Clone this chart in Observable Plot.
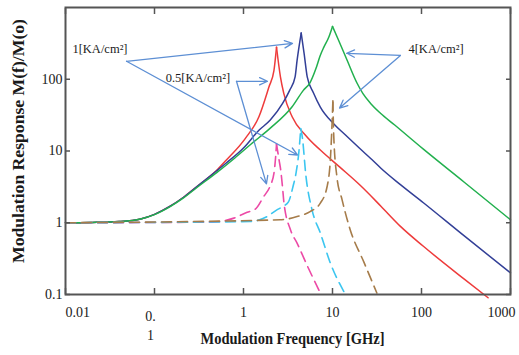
<!DOCTYPE html>
<html>
<head>
<meta charset="utf-8">
<script src="https://cdn.jsdelivr.net/npm/d3@7"></script>
<script src="https://cdn.jsdelivr.net/npm/@observablehq/plot@0.6"></script>
<style>
  html, body { margin: 0; padding: 0; background: #fff; }
</style>
</head>
<body>
<div id="chart"></div>
<script>
// ---- tick values / labels ----
const xTickValues = [0.01, 0.1, 1, 10, 100, 1000];
const xTickLabels = ["0.01", "0.\n1", "1", "10", "100", "1000"];
const yTickValues = [0.1, 1, 10, 100];
const yTickLabels = ["0.1", "1", "10", "100"];
const xTitle = "Modulation Frequency [GHz]";
const yTitle = "Modulation Response M(f)/M(o)";

// ---- solid curves ----
const greenFreq = [0.01,0.02,0.04,0.07,0.1,0.15,0.21,0.3,0.5,0.8,1.2,2.0,3.5,4.7,5.6,6.5,7.3,8.0,9.1,10,11.7,14.6,18.9,22,26.8,34.6,50,105,300,1000];
const greenResp = [1.0,1.01,1.04,1.13,1.3,1.68,2.2,3.1,5.0,8.0,12.3,20.8,41,70,90,140,216,280,388,545,350,184,88,63,46,33.6,23,10.6,3.7,1.1];

const blueFreq = [0.01,0.02,0.04,0.07,0.1,0.15,0.21,0.3,0.5,0.63,1.0,1.5,2.0,2.75,3.3,3.8,4.0,4.45,4.8,5.2,6.1,7.3,10.3,14,20,29,35,58,105,300,1000];
const blueResp = [1.0,1.01,1.04,1.13,1.31,1.7,2.25,3.2,5.3,6.7,11,19.6,27,46,70,108,183,440,228,108,65,41,24,16.7,11,7.2,5.75,3.4,1.9,0.66,0.2];

const redFreq = [0.01,0.02,0.04,0.07,0.1,0.15,0.21,0.3,0.5,0.63,1.05,1.49,1.93,2.2,2.35,2.6,2.84,3.52,5,7.3,12,20.6,35,58,105,300,560];
const redResp = [1.0,1.01,1.04,1.13,1.31,1.7,2.25,3.2,5.4,7.3,15,30,78,133,280,108,63,30,16.5,10.3,6.0,3.3,1.7,0.89,0.47,0.165,0.09];

// ---- dashed curves ----
const pinkFreq = [0.01,0.45,0.78,1.1,1.36,1.68,2.0,2.2,2.3,2.35,2.51,2.62,2.74,2.85,3.37,4.0,5.3,7.3];
const pinkResp = [1.0,1.02,1.16,1.4,1.55,2.3,3.3,4.9,8.5,12.5,7.5,5.4,3.2,1.88,0.8,0.52,0.24,0.105];

const cyanFreq = [0.01,1.2,1.8,2.35,2.8,3.2,3.6,3.9,4.2,4.4,4.6,5.0,5.9,7.3,9.4,14];
const cyanResp = [1.0,1.04,1.2,1.5,1.7,1.95,3.2,5,10,20.6,15,4.8,1.5,0.72,0.28,0.1];

const brownFreq = [0.01,2.6,4,5.6,7.3,8.7,9.5,9.9,10.1,10.3,11.2,12.8,15.8,22.6,31.5];
const brownResp = [1.0,1.1,1.22,1.43,1.88,3.2,8.3,25,50,17.6,4.4,2.1,0.8,0.28,0.105];

// ---- annotations (data coordinates) ----
const annoText = ["1[KA/cm²]", "0.5[KA/cm²]", "4[KA/cm²]"];
const annoFreq = [0.0244, 0.308, 145.6];
const annoResp = [261, 103, 261];

const arrowFromFreq = [0.0485, 0.0485, 0.834, 0.834, 58, 58];
const arrowFromResp = [178, 178, 93.7, 93.7, 215, 215];
const arrowToFreq   = [3.55, 4.04, 1.86, 1.81, 14.4, 12.0];
const arrowToResp   = [316, 8.8, 93.7, 3.48, 230, 39.6];

// ---- build tables ----
const toRows = (f, v) => f.map((d, i) => ({f: d, v: v[i]}));
// split each curve at its resonance peak so the smooth curve keeps a sharp cusp
function splitAtPeak(rows) {
  let p = 0;
  rows.forEach((r, i) => { if (r.v > rows[p].v) p = i; });
  return [rows.slice(0, p + 1), rows.slice(p)];
}
const solidSeries = [
  {rows: toRows(redFreq, redResp), color: "#ee3b3b"},
  {rows: toRows(blueFreq, blueResp), color: "#323f97"},
  {rows: toRows(greenFreq, greenResp), color: "#22b04e"}
];
const dashedSeries = [
  {rows: toRows(pinkFreq, pinkResp), color: "#ec4aa6"},
  {rows: toRows(cyanFreq, cyanResp), color: "#3cc6f0"},
  {rows: toRows(brownFreq, brownResp), color: "#a67c4a"}
];
const arrows = arrowFromFreq.map((d, i) => ({x1: d, y1: arrowFromResp[i], x2: arrowToFreq[i], y2: arrowToResp[i]}));
const annos = annoText.map((t, i) => ({t, f: annoFreq[i], v: annoResp[i]}));
const xLab = xTickValues.map((d, i) => ({x: d, t: xTickLabels[i]}));
const yLab = yTickValues.map((d, i) => ({y: d, t: yTickLabels[i]}));

const axisColor = "#555";
const textColor = "#1a1a1a";

const curveMarks = (series, opts) => series.flatMap(s =>
  splitAtPeak(s.rows).map(part => Plot.line(part, {x: "f", y: "v", stroke: s.color, curve: "monotone-x", ...opts})));

const chart = Plot.plot({
  width: 519,
  height: 355,
  marginLeft: 65,
  marginRight: 9,
  marginTop: 7,
  marginBottom: 61,
  style: {fontFamily: "'Liberation Serif', serif", background: "#fff", color: textColor},
  x: {type: "log", domain: [0.01, 1000]},
  y: {type: "log", domain: [0.1, 1000]},
  marks: [
    ...curveMarks(solidSeries, {strokeWidth: 1.5}),
    ...curveMarks(dashedSeries, {strokeWidth: 1.6, strokeDasharray: "10,6"}),
    Plot.arrow(arrows, {x1: "x1", y1: "y1", x2: "x2", y2: "y2", stroke: "#5d8fd4", strokeWidth: 1.3, headLength: 10, headAngle: 50}),
    Plot.text(annos, {x: "f", y: "v", text: "t", fontSize: 12.5, fill: textColor}),
    Plot.axisX({anchor: "bottom", ticks: xTickValues, tickSize: -6, tickFormat: () => "", label: null, stroke: axisColor, strokeWidth: 1.5}),
    Plot.axisX({anchor: "top", ticks: xTickValues, tickSize: -6, tickFormat: () => "", label: null, stroke: axisColor, strokeWidth: 1.5}),
    Plot.axisY({anchor: "left", ticks: yTickValues, tickSize: -5, tickFormat: () => "", label: null, stroke: axisColor, strokeWidth: 1.5}),
    Plot.axisY({anchor: "right", ticks: yTickValues, tickSize: -5, tickFormat: () => "", label: null, stroke: axisColor, strokeWidth: 1.5}),
    Plot.frame({stroke: axisColor, strokeWidth: 2}),
    Plot.text(xLab.slice(0, 1), {x: "x", text: "t", frameAnchor: "bottom", lineAnchor: "top", dy: 13, textAnchor: "start", fontSize: 14, fill: textColor}),
    Plot.text(xLab.slice(1, 2), {x: "x", text: "t", frameAnchor: "bottom", lineAnchor: "top", dy: 13, dx: -4, lineHeight: 1.35, fontSize: 14, fill: textColor}),
    Plot.text(xLab.slice(2, 5), {x: "x", text: "t", frameAnchor: "bottom", lineAnchor: "top", dy: 13, fontSize: 14, fill: textColor}),
    Plot.text(xLab.slice(5), {x: "x", text: "t", frameAnchor: "bottom", lineAnchor: "top", dy: 13, textAnchor: "end", dx: 5, fontSize: 14, fill: textColor}),
    Plot.text(yLab, {y: "y", text: "t", frameAnchor: "left", textAnchor: "end", dx: -3, fontSize: 14, fill: textColor}),
    Plot.text([xTitle], {frameAnchor: "bottom", dy: 49, dx: 4.5, fontSize: 17, fontWeight: "bold", fill: textColor}),
    Plot.text([yTitle], {frameAnchor: "left", dx: -47, dy: 112, rotate: -90, textAnchor: "start", fontSize: 17, fontWeight: "bold", fill: textColor})
  ]
});

document.getElementById("chart").appendChild(chart);

// condense the axis titles to the reference's tall, narrow lettering
d3.select(chart).selectAll("text").each(function() {
  const t = this.textContent;
  if (t === xTitle) d3.select(this).attr("textLength", 184).attr("lengthAdjust", "spacingAndGlyphs");
  if (t === yTitle) d3.select(this).attr("textLength", 244).attr("lengthAdjust", "spacingAndGlyphs");
});
</script>
</body>
</html>
